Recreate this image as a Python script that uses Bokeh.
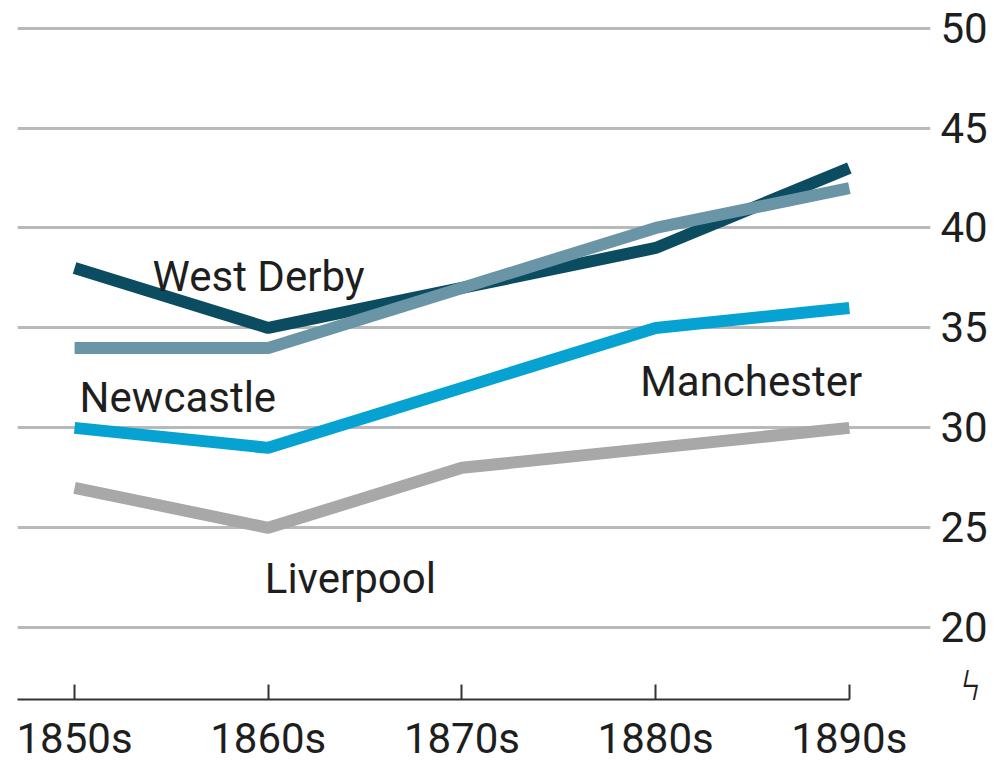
from bokeh.plotting import figure
from bokeh.models import FixedTicker, Range1d, Label
from bokeh.embed import file_html
from bokeh.resources import INLINE

# ---- data ----
decades = ["1850s", "1860s", "1870s", "1880s", "1890s"]
west_derby = [38, 35, 37, 39, 43]
newcastle = [34, 34, 37, 40, 42]
manchester = [30, 29, 32, 35, 36]
liverpool = [27, 25, 28, 29, 30]
y_ticks = [20, 25, 30, 35, 40, 45, 50]
break_mark = 17.1  # axis-break symbol position below the lowest tick

FONT = "Roboto"
TXT = "#1e1e1e"
FS = "42px"

x = list(range(len(decades)))
x_start, x_end = -0.2946, 4.419

p = figure(width=990, height=765, output_backend="svg", toolbar_location=None,
           x_range=Range1d(x_start, x_end), y_range=Range1d(16.41, 50.38),
           y_axis_location="right",
           min_border_left=17, min_border_top=20, min_border_right=52, min_border_bottom=64)
p.outline_line_color = None
p.xgrid.visible = False
p.ygrid.ticker = FixedTicker(ticks=y_ticks)
p.ygrid.grid_line_color = "#b9b9b9"
p.ygrid.grid_line_width = 3

ya = p.yaxis[0]
ya.ticker = FixedTicker(ticks=[break_mark] + y_ticks)
ya.major_label_overrides = {break_mark: "\u00a0\u00a0\u03df"}
ya.axis_line_color = None
ya.major_tick_line_color = None
ya.minor_tick_line_color = None
ya.major_label_standoff = 4
ya.major_label_text_font = FONT
ya.major_label_text_font_size = FS
ya.major_label_text_color = TXT

xa = p.xaxis[0]
xa.ticker = FixedTicker(ticks=x)
xa.major_label_overrides = {i: d for i, d in enumerate(decades)}
xa.bounds = (x_start, len(decades) - 1)
xa.axis_line_color = "#333333"
xa.axis_line_width = 2
xa.major_tick_line_color = "#333333"
xa.major_tick_line_width = 2
xa.major_tick_in = 15
xa.major_tick_out = 0
xa.minor_tick_line_color = None
xa.major_label_standoff = 14
xa.major_label_text_font = FONT
xa.major_label_text_font_size = FS
xa.major_label_text_color = TXT

LW = 12
p.line(x, liverpool, line_color="#a8a8a8", line_width=LW)
p.line(x, manchester, line_color="#06a3d2", line_width=LW)
p.line(x, west_derby, line_color="#0c4c60", line_width=LW)
p.line(x, newcastle, line_color="#6a95a7", line_width=LW)

labels = [("West Derby", 0.403, 37.56), ("Newcastle", 0.026, 31.53),
          ("Manchester", 2.92, 32.33), ("Liverpool", 0.982, 22.45)]
for t, lx, ly in labels:
    p.add_layout(Label(x=lx, y=ly, text=t, text_font=FONT, text_font_size=FS,
                       text_color=TXT, text_baseline="alphabetic", text_align="left"))

open("out.html", "w").write(file_html(p, INLINE))
